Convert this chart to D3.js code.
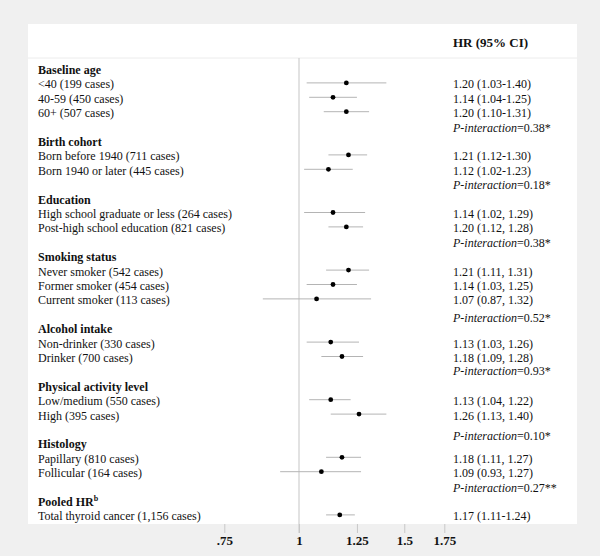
<!DOCTYPE html>
<html>
<head>
<meta charset="utf-8">
<script src="https://cdn.jsdelivr.net/npm/d3@7"></script>
<style>
  body { margin: 0; background: #f0f0f0; }
  svg { display: block; }
  svg text { font-family: "Liberation Serif", Tinos, "Times New Roman", Times, serif; }
</style>
</head>
<body>
<svg id="chart" width="600" height="556"></svg>
<script>
// subgroup data
const groupNames = ["Baseline age", "Birth cohort", "Education", "Smoking status",
    "Alcohol intake", "Physical activity level", "Histology", "Pooled HR"];

const subgroupLabels = [
    ["<40 (199 cases)", "40-59 (450 cases)", "60+ (507 cases)"],
    ["Born before 1940 (711 cases)", "Born 1940 or later (445 cases)"],
    ["High school graduate or less (264 cases)", "Post-high school education (821 cases)"],
    ["Never smoker (542 cases)", "Former smoker (454 cases)", "Current smoker (113 cases)"],
    ["Non-drinker (330 cases)", "Drinker (700 cases)"],
    ["Low/medium (550 cases)", "High (395 cases)"],
    ["Papillary (810 cases)", "Follicular (164 cases)"],
    ["Total thyroid cancer (1,156 cases)"]
];

const hrValues = [[1.20, 1.14, 1.20], [1.21, 1.12], [1.14, 1.20], [1.21, 1.14, 1.07],
    [1.13, 1.18], [1.13, 1.26], [1.18, 1.09], [1.17]];
const ciLower = [[1.03, 1.04, 1.10], [1.12, 1.02], [1.02, 1.12], [1.11, 1.03, 0.87],
    [1.03, 1.09], [1.04, 1.13], [1.11, 0.93], [1.11]];
const ciUpper = [[1.40, 1.25, 1.31], [1.30, 1.23], [1.29, 1.28], [1.31, 1.25, 1.32],
    [1.26, 1.28], [1.22, 1.40], [1.27, 1.27], [1.24]];

const ciLabels = [
    ["1.20 (1.03-1.40)", "1.14 (1.04-1.25)", "1.20 (1.10-1.31)"],
    ["1.21 (1.12-1.30)", "1.12 (1.02-1.23)"],
    ["1.14 (1.02, 1.29)", "1.20 (1.12, 1.28)"],
    ["1.21 (1.11, 1.31)", "1.14 (1.03, 1.25)", "1.07 (0.87, 1.32)"],
    ["1.13 (1.03, 1.26)", "1.18 (1.09, 1.28)"],
    ["1.13 (1.04, 1.22)", "1.26 (1.13, 1.40)"],
    ["1.18 (1.11, 1.27)", "1.09 (0.93, 1.27)"],
    ["1.17 (1.11-1.24)"]
];

const pInteraction = ["0.38*", "0.18*", "0.38*", "0.52*", "0.93*", "0.10*", "0.27**", null];

const tickValues = [0.75, 1, 1.25, 1.5, 1.75];
const tickLabels = [".75", "1", "1.25", "1.5", "1.75"];

// small vertical nudges for the p-interaction lines (as in the figure)
const pNudge = [0, 0, 0, 3.5, -1, 5.5, 0, 0];

// build the row list
const rows = [];
groupNames.forEach((g, gi) => {
    rows.push({ type: "header", text: g, group: gi });
    subgroupLabels[gi].forEach((lab, i) => {
        rows.push({ type: "item", text: lab, hr: hrValues[gi][i], lo: ciLower[gi][i],
            hi: ciUpper[gi][i], ci: ciLabels[gi][i] });
    });
    if (pInteraction[gi]) rows.push({ type: "p", text: pInteraction[gi], group: gi });
});
rows.forEach((r, i) => r.idx = i);

const svg = d3.select("#chart");
const panel = { left: 28, right: 577, top: 24, bottom: 524 };
const headerLine = 58;
const serif = "'Liberation Serif', Tinos, 'Times New Roman', Times, serif";

const x = d3.scaleLog().domain([0.75, 1.75]).range([224.3, 444.3]);
const y = d3.scaleLinear().domain([0, rows.length - 1]).range([70, 516.4]);

svg.append("rect")
    .attr("x", panel.left).attr("y", panel.top)
    .attr("width", panel.right - panel.left).attr("height", panel.bottom - panel.top)
    .attr("fill", "#fff");

svg.append("line")
    .attr("x1", panel.left).attr("x2", panel.right)
    .attr("y1", headerLine).attr("y2", headerLine)
    .attr("stroke", "#ececec").attr("stroke-width", 1);

svg.append("text")
    .attr("x", 453).attr("y", 47)
    .attr("font-family", serif)
    .attr("font-size", "13px").attr("font-weight", "bold")
    .attr("fill", "#111")
    .text("HR (95% CI)");

// reference line at HR = 1
svg.append("line")
    .attr("x1", x(1)).attr("x2", x(1))
    .attr("y1", headerLine).attr("y2", panel.bottom + 9)
    .attr("stroke", "#cfcfcf").attr("stroke-width", 1.2);

// axis
const axis = svg.append("g")
    .attr("transform", `translate(0,${panel.bottom})`)
    .call(d3.axisBottom(x).tickValues(tickValues)
        .tickFormat((d, i) => tickLabels[i]).tickSize(9).tickPadding(3));
axis.attr("font-family", serif);
axis.select(".domain").remove();
axis.selectAll(".tick line").attr("stroke", "#c8c8c8");
axis.selectAll(".tick text")
    .attr("font-family", serif)
    .attr("font-size", "13px").attr("font-weight", "bold").attr("fill", "#111");

const textY = r => y(r.idx) + 4 + (r.type === "p" ? pNudge[r.group] : 0);

// left labels
svg.append("g").selectAll("text")
    .data(rows.filter(r => r.type !== "p"))
    .enter().append("text")
    .attr("x", 38)
    .attr("y", textY)
    .attr("font-family", serif)
    .attr("font-size", "12px")
    .attr("font-weight", d => d.type === "header" ? "bold" : "normal")
    .attr("fill", "#111")
    .each(function(d) {
        const t = d3.select(this);
        if (d.type === "header" && d.text === "Pooled HR") {
            t.append("tspan").text("Pooled HR");
            t.append("tspan").attr("font-size", "8px").attr("dy", -5).text("b");
        } else {
            t.text(d.text);
        }
    });

// CI lines and points
const items = rows.filter(r => r.type === "item");
svg.append("g").selectAll("line")
    .data(items)
    .enter().append("line")
    .attr("x1", d => x(d.lo)).attr("x2", d => x(d.hi))
    .attr("y1", d => y(d.idx) - 1.5).attr("y2", d => y(d.idx) - 1.5)
    .attr("stroke", "#b4b4b4").attr("stroke-width", 1);

svg.append("g").selectAll("circle")
    .data(items)
    .enter().append("circle")
    .attr("cx", d => x(d.hr)).attr("cy", d => y(d.idx) - 1.5)
    .attr("r", 2.4).attr("fill", "#000");

// right column text
svg.append("g").selectAll("text")
    .data(rows.filter(r => r.type !== "header"))
    .enter().append("text")
    .attr("x", 453)
    .attr("y", textY)
    .attr("font-family", serif)
    .attr("font-size", "12px")
    .attr("fill", "#111")
    .each(function(d) {
        const t = d3.select(this);
        if (d.type === "p") {
            t.append("tspan").attr("font-style", "italic").text("P-interaction");
            t.append("tspan").text("=" + d.text);
        } else {
            t.text(d.ci);
        }
    });
</script>
</body>
</html>
